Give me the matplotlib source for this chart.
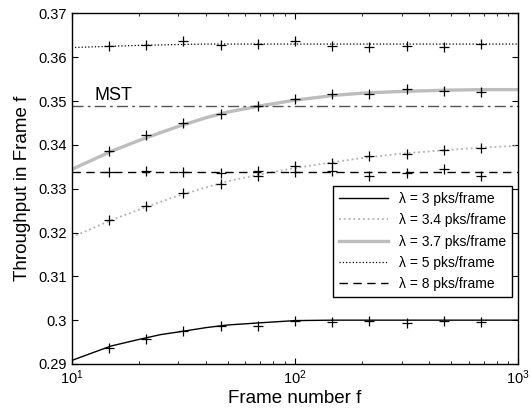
import numpy as np
import matplotlib
matplotlib.use('Agg')
from matplotlib import pyplot as plt
from matplotlib.ticker import FormatStrFormatter, LogLocator

plt.rcParams['font.family'] = ['Liberation Sans', 'DejaVu Sans']

# simulation points (markers)
f_sim = [14.7, 21.5, 31.6, 46.4, 68.1, 100, 146.8, 215.4, 316.2, 464.2, 681.3]
sim_3 = [0.2936, 0.2957, 0.2976, 0.2987, 0.2987, 0.2999, 0.2996, 0.2998, 0.2994, 0.2999, 0.2996]
sim_34 = [0.3228, 0.3261, 0.3290, 0.3310, 0.3328, 0.3351, 0.3359, 0.3374, 0.3380, 0.3389, 0.3393]
sim_37 = [0.3386, 0.3422, 0.3451, 0.3471, 0.3488, 0.3504, 0.3517, 0.3517, 0.3528, 0.3523, 0.3521]
sim_5 = [0.3626, 0.3629, 0.3636, 0.3627, 0.3631, 0.3636, 0.3625, 0.3624, 0.3625, 0.3623, 0.3630]
sim_8 = [0.3337, 0.3340, 0.3338, 0.3335, 0.3341, 0.3338, 0.3341, 0.3329, 0.3336, 0.3346, 0.3329]

# analytical curves
f_mod = [10, 15, 20, 25, 30, 40, 50, 70, 100, 150, 200, 300, 500, 700, 1000]
mod_3 = [0.2908, 0.2941, 0.2956, 0.2967, 0.2973, 0.2983, 0.2989, 0.2994, 0.2999, 0.3000, 0.3000, 0.3000, 0.3000, 0.3000, 0.3000]
mod_34 = [0.3189, 0.3228, 0.3252, 0.3270, 0.3284, 0.3303, 0.3317, 0.3333, 0.3347, 0.3361, 0.3370, 0.3380, 0.3389, 0.3394, 0.3398]
mod_37 = [0.3344, 0.3385, 0.3410, 0.3428, 0.3442, 0.3462, 0.3475, 0.3489, 0.3502, 0.3513, 0.3518, 0.3522, 0.3525, 0.3526, 0.3526]
mod_5 = [0.3622, 0.3625, 0.3627, 0.3628, 0.3629, 0.3630, 0.3630, 0.3630, 0.3630, 0.3630, 0.3630, 0.3630, 0.3630, 0.3630, 0.3630]
mod_8 = [0.3338] * len(f_mod)
mst = 0.3488

fig = plt.figure(figsize=(5.31, 4.11), dpi=100)
ax = fig.add_axes([0.135, 0.1144, 0.841, 0.853])

ax.semilogx(f_mod, mod_3, '-', color='k', lw=1.0, label='λ = 3 pks/frame')
ax.semilogx(f_mod, mod_34, ':', color='#b0b0b0', lw=1.3, label='λ = 3.4 pks/frame')
ax.semilogx(f_mod, mod_37, '-', color='#bdbdbd', lw=2.4, label='λ = 3.7 pks/frame')
ax.semilogx(f_mod, mod_5, ':', color='k', lw=0.9, label='λ = 5 pks/frame')
ax.semilogx(f_mod, mod_8, '--', color='k', lw=1.0, dashes=(6, 4), label='λ = 8 pks/frame')
ax.axhline(mst, color='#555555', lw=1.0, ls='-.', dashes=(8, 3, 2, 3))
ax.text(12.6, mst + 0.0006, 'MST', fontsize=13, va='bottom')

for s in (sim_3, sim_34, sim_37, sim_5, sim_8):
    ax.plot(f_sim, s, '+', color='k', ms=6.5, mew=0.9)

ax.set_xlim(10, 1000)
ax.set_ylim(0.29, 0.37)
ax.set_yticks(np.arange(0.29, 0.3701, 0.01))
ax.yaxis.set_major_formatter(FormatStrFormatter('%g'))
ax.xaxis.set_minor_locator(LogLocator(subs=np.arange(2, 10)))
ax.tick_params(which='both', direction='in', top=True, right=True, labelsize=10.5)
ax.tick_params(which='major', length=4)
ax.tick_params(which='minor', length=2)
for sp in ax.spines.values():
    sp.set_linewidth(1.0)

ax.set_xlabel('Frame number f', fontsize=13.5, labelpad=2)
ax.set_ylabel('Throughput in Frame f', fontsize=13.5, labelpad=5)

leg = ax.legend(loc='upper right', bbox_to_anchor=(0.987, 0.508), borderaxespad=0,
                fontsize=10, handlelength=3.5, fancybox=False, framealpha=1,
                edgecolor='k', labelspacing=0.52, borderpad=0.45)
leg.get_frame().set_linewidth(1.0)

fig.savefig('out.png', dpi=100)
